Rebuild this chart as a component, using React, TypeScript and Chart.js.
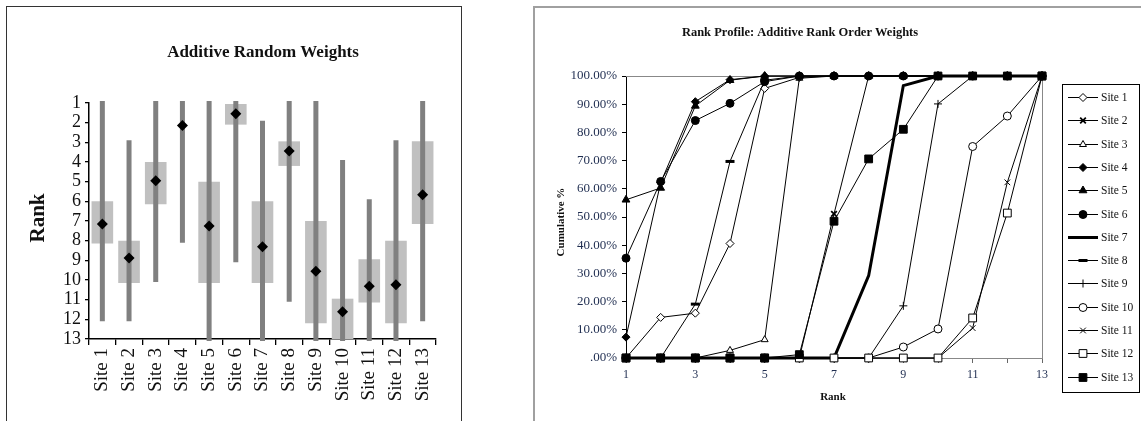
import React, { useEffect, useRef } from 'react';
import { Chart, registerables } from 'chart.js';
import { drawPoint } from 'chart.js/helpers';

Chart.register(...registerables);

const FONT = "'Liberation Serif', 'Times New Roman', serif";

// ---------- Left chart data: Additive Random Weights ----------
const siteLabels = ['Site 1', 'Site 2', 'Site 3', 'Site 4', 'Site 5', 'Site 6', 'Site 7', 'Site 8', 'Site 9', 'Site 10', 'Site 11', 'Site 12', 'Site 13'];
const rangeMin = [1, 3, 1, 1, 1, 1, 2, 1, 1, 4, 6, 3, 1];
const rangeMax = [12, 12, 10, 8, 13, 9, 13, 11, 13, 13, 13, 13, 12];
const boxLow: (number | null)[] = [6, 8, 4, null, 5, 1.05, 6, 2.95, 7, 10.95, 8.95, 8, 2.95];
const boxHigh: (number | null)[] = [8.15, 10.15, 6.15, null, 10.15, 2.1, 10.15, 4.2, 12.2, 13, 11.15, 12.2, 7.15];
const meanRank = [7.15, 8.88, 4.95, 2.14, 7.26, 1.55, 8.31, 3.44, 9.55, 11.62, 10.32, 10.24, 5.66];
const rankTicks = [1, 2, 3, 4, 5, 6, 7, 8, 9, 10, 11, 12, 13];

// ---------- Right chart data: Rank Profile (cumulative %) ----------
const rankLabels = ['1', '2', '3', '4', '5', '6', '7', '8', '9', '10', '11', '12', '13'];
const site1 = [0, 14.4, 15.9, 40.6, 95.6, 99.5, 100, 100, 100, 100, 100, 100, 100];
const site2 = [0, 0, 0, 0, 0, 0, 51.1, 100, 100, 100, 100, 100, 100];
const site3 = [0, 0, 0, 2.7, 6.5, 99.2, 100, 100, 100, 100, 100, 100, 100];
const site4 = [7.4, 62.2, 90.9, 98.7, 100, 100, 100, 100, 100, 100, 100, 100, 100];
const site5 = [56.1, 60.3, 89.4, 98.5, 100, 100, 100, 100, 100, 100, 100, 100, 100];
const site6 = [35.4, 62.6, 84.2, 90.3, 98.0, 100, 100, 100, 100, 100, 100, 100, 100];
const site7 = [0, 0, 0, 0, 0, 0, 0, 29.2, 96.6, 100, 100, 100, 100];
const site8 = [0, 0, 19.1, 69.7, 98.5, 100, 100, 100, 100, 100, 100, 100, 100];
const site9 = [0, 0, 0, 0, 0, 0, 0, 0, 18.5, 90.1, 100, 100, 100];
const site10 = [0, 0, 0, 0, 0, 0, 0, 0, 3.9, 10.3, 75.0, 85.8, 100];
const site11 = [0, 0, 0, 0, 0, 0, 0, 0, 0, 0, 10.6, 62.3, 100];
const site12 = [0, 0, 0, 0, 0, 0, 0, 0, 0, 0, 14.2, 51.4, 100];
const site13 = [0, 0, 0, 0, 0, 1.2, 48.5, 70.6, 81.1, 100, 100, 100, 100];
const profileSeries = [site1, site2, site3, site4, site5, site6, site7, site8, site9, site10, site11, site12, site13];

// styles (kept apart from data)
type SeriesStyle = { pointStyle: any; radius: number; fill: string; pointBorder: number; lineWidth: number };
const seriesStyles: SeriesStyle[] = [
  { pointStyle: 'rectRot', radius: 4, fill: '#fff', pointBorder: 1, lineWidth: 1 },
  { pointStyle: 'crossRot', radius: 4, fill: '#000', pointBorder: 1.8, lineWidth: 1 },
  { pointStyle: 'triangle', radius: 4, fill: '#fff', pointBorder: 1, lineWidth: 1 },
  { pointStyle: 'rectRot', radius: 4, fill: '#000', pointBorder: 1, lineWidth: 1 },
  { pointStyle: 'triangle', radius: 4.5, fill: '#000', pointBorder: 1, lineWidth: 1 },
  { pointStyle: 'circle', radius: 4, fill: '#000', pointBorder: 1, lineWidth: 1 },
  { pointStyle: false, radius: 0, fill: '#000', pointBorder: 0, lineWidth: 3 },
  { pointStyle: 'line', radius: 4.5, fill: '#000', pointBorder: 3, lineWidth: 1 },
  { pointStyle: 'cross', radius: 4, fill: '#000', pointBorder: 1, lineWidth: 1 },
  { pointStyle: 'circle', radius: 4, fill: '#fff', pointBorder: 1, lineWidth: 1 },
  { pointStyle: 'crossRot', radius: 4, fill: '#000', pointBorder: 1, lineWidth: 1 },
  { pointStyle: 'rect', radius: 5.5, fill: '#fff', pointBorder: 1, lineWidth: 1 },
  { pointStyle: 'rect', radius: 5.5, fill: '#000', pointBorder: 1, lineWidth: 1 },
];

const leftDecor = {
  id: 'leftDecor',
  afterDraw(chart: any) {
    const { ctx, chartArea } = chart;
    ctx.save();
    ctx.fillStyle = '#111';
    ctx.textAlign = 'center';
    ctx.textBaseline = 'middle';
    ctx.font = `bold 17px ${FONT}`;
    ctx.fillText('Additive Random Weights', (chartArea.left + chartArea.right) / 2 + 0.5, 46);
    ctx.translate(32, 211);
    ctx.rotate(-Math.PI / 2);
    ctx.font = `bold 21px ${FONT}`;
    ctx.fillText('Rank', 0, 0);
    ctx.restore();
  },
};

const rightDecor = {
  id: 'rightDecor',
  beforeDatasetsDraw(chart: any) {
    const { ctx, chartArea } = chart;
    ctx.save();
    ctx.strokeStyle = '#888';
    ctx.lineWidth = 1;
    ctx.beginPath();
    ctx.moveTo(chartArea.left, chartArea.top + 0.5);
    ctx.lineTo(chartArea.right + 0.5, chartArea.top + 0.5);
    ctx.lineTo(chartArea.right + 0.5, chartArea.bottom);
    ctx.stroke();
    ctx.restore();
  },
  afterDraw(chart: any) {
    const { ctx } = chart;
    ctx.save();
    ctx.fillStyle = '#111';
    ctx.textAlign = 'center';
    ctx.textBaseline = 'middle';
    ctx.font = `bold 12.5px ${FONT}`;
    ctx.fillText('Rank Profile: Additive Rank Order Weights', 265, 25);
    ctx.font = `bold 11px ${FONT}`;
    ctx.fillText('Rank', 298, 389);
    ctx.save();
    ctx.translate(26, 214);
    ctx.rotate(-Math.PI / 2);
    ctx.fillText('Cumulative %', 0, 0);
    ctx.restore();

    // legend
    const lx = 527, ly = 76, lw = 77, lh = 308;
    ctx.strokeStyle = '#000';
    ctx.lineWidth = 1;
    ctx.strokeRect(lx + 0.5, ly + 0.5, lw, lh);
    chart.data.datasets.forEach((ds: any, i: number) => {
      const st = seriesStyles[i];
      const y = Math.round(89 + i * 23.3) + 0.5;
      ctx.beginPath();
      ctx.strokeStyle = '#000';
      ctx.lineWidth = st.lineWidth;
      ctx.moveTo(533, y);
      ctx.lineTo(563, y);
      ctx.stroke();
      if (st.pointStyle) {
        ctx.fillStyle = st.fill;
        ctx.strokeStyle = '#000';
        ctx.lineWidth = st.pointBorder;
        drawPoint(ctx, { pointStyle: st.pointStyle, radius: st.radius, rotation: 0, borderWidth: st.pointBorder }, 548, y);
      }
      ctx.fillStyle = '#111';
      ctx.textAlign = 'left';
      ctx.font = `11.5px ${FONT}`;
      ctx.fillText(ds.label, 566, y);
    });
    ctx.restore();
  },
};

function LeftChart() {
  const ref = useRef<HTMLCanvasElement>(null);
  useEffect(() => {
    const chart = new Chart(ref.current!, {
      type: 'bar',
      data: {
        labels: siteLabels,
        datasets: [
          {
            type: 'line',
            label: 'Mean rank',
            data: meanRank,
            showLine: false,
            pointStyle: 'rectRot',
            pointRadius: 5.5,
            pointBackgroundColor: '#000',
            pointBorderColor: '#000',
            pointBorderWidth: 0,
            order: 0,
            clip: false,
          } as any,
          {
            type: 'bar',
            label: 'Range',
            data: rangeMin.map((v, i) => [v, rangeMax[i]]),
            backgroundColor: '#808080',
            barThickness: 1,
            inflateAmount: 2,
            borderWidth: 0,
            grouped: false,
            order: 1,
            clip: false,
          } as any,
          {
            type: 'bar',
            label: 'Interquartile',
            data: boxLow.map((v, i) => (v == null ? null : [v, boxHigh[i] as number])),
            backgroundColor: '#c0c0c0',
            barPercentage: 0.81,
            categoryPercentage: 1,
            borderWidth: 0,
            inflateAmount: 0,
            grouped: false,
            order: 2,
          } as any,
        ],
      },
      options: {
        responsive: false,
        animation: false,
        layout: { padding: { top: 96, right: 25, left: 0, bottom: 0 } },
        plugins: { legend: { display: false }, tooltip: { enabled: false }, title: { display: false } },
        scales: {
          x: {
            offset: true,
            grid: { offset: true, drawOnChartArea: false, drawTicks: true, tickLength: 6, color: '#000', lineWidth: 1.3 },
            border: { color: '#000', width: 1.5 },
            ticks: { minRotation: 90, maxRotation: 90, autoSkip: false, padding: 3, color: '#111', font: { family: FONT, size: 19 } },
            afterFit: (s: any) => { s.height = 82; },
          },
          y: {
            reverse: true,
            min: 1,
            max: 13,
            afterBuildTicks: (s: any) => { s.ticks = rankTicks.map((v) => ({ value: v })); },
            ticks: { autoSkip: false, padding: 4, color: '#111', font: { family: FONT, size: 18 } },
            grid: { drawOnChartArea: false, tickLength: 4, color: '#000', lineWidth: 1.3 },
            border: { color: '#000', width: 1.5 },
            afterFit: (s: any) => { s.width = 82; },
          },
        },
      } as any,
      plugins: [leftDecor],
    });
    return () => chart.destroy();
  }, []);
  return <canvas ref={ref} width={454} height={414} style={{ display: 'block', width: 454, height: 414 }} />;
}

function RightChart() {
  const ref = useRef<HTMLCanvasElement>(null);
  useEffect(() => {
    const chart = new Chart(ref.current!, {
      type: 'line',
      data: {
        labels: rankLabels,
        datasets: profileSeries.map((vals, i) => {
          const st = seriesStyles[i];
          return {
            label: siteLabels[i],
            data: vals,
            borderColor: '#000',
            borderWidth: st.lineWidth,
            pointStyle: st.pointStyle,
            pointRadius: st.radius,
            pointBackgroundColor: st.fill,
            pointBorderColor: '#000',
            pointBorderWidth: st.pointBorder,
            tension: 0,
            clip: false,
            order: profileSeries.length - i,
          } as any;
        }),
      },
      options: {
        responsive: false,
        animation: false,
        layout: { padding: { top: 68, right: 99, left: 0, bottom: 0 } },
        plugins: { legend: { display: false }, tooltip: { enabled: false }, title: { display: false } },
        scales: {
          x: {
            type: 'category',
            offset: false,
            grid: { drawOnChartArea: false, tickLength: 5, color: '#666' },
            border: { color: '#888', width: 1 },
            ticks: {
              autoSkip: false,
              maxRotation: 0,
              padding: 5,
              color: '#1f2d50',
              font: { family: FONT, size: 12 },
              callback: (v: any, i: number) => (i % 2 === 0 ? rankLabels[i] : ''),
            },
            afterFit: (s: any) => { s.height = 63; },
          },
          y: {
            min: 0,
            max: 100,
            ticks: {
              stepSize: 10,
              padding: 5,
              color: '#1f2d50',
              font: { family: FONT, size: 13 },
              callback: (v: any) => (v === 0 ? '.00%' : Number(v).toFixed(2) + '%'),
            },
            grid: { drawOnChartArea: false, tickLength: 4, color: '#000' },
            border: { color: '#000', width: 1 },
            afterFit: (s: any) => { s.width = 91; },
          },
        },
      } as any,
      plugins: [rightDecor],
    });
    return () => chart.destroy();
  }, []);
  return <canvas ref={ref} width={606} height={413} style={{ display: 'block', width: 606, height: 413 }} />;
}

export default function App() {
  return (
    <div style={{ position: 'fixed', left: 0, top: 0, width: 1141, height: 421, overflow: 'hidden', background: '#fff' }}>
      <div style={{ position: 'absolute', left: 6, top: 6, width: 454, height: 420, borderLeft: '1px solid #333', borderTop: '1px solid #333', borderRight: '1px solid #333' }}>
        <LeftChart />
      </div>
      <div style={{ position: 'absolute', left: 533, top: 6, width: 620, height: 420, borderLeft: '2px solid #a0a0a0', borderTop: '2px solid #a0a0a0' }}>
        <RightChart />
      </div>
    </div>
  );
}
